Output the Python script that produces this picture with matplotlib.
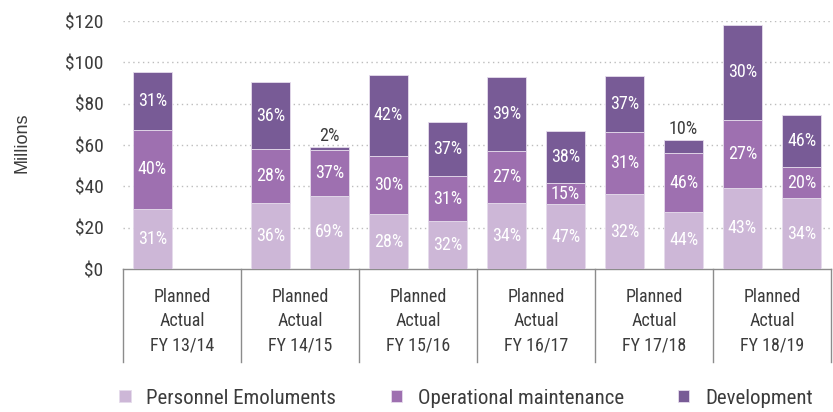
import matplotlib
matplotlib.use("Agg")
import matplotlib.pyplot as plt
import numpy as np

years = ["FY 13/14", "FY 14/15", "FY 15/16", "FY 16/17", "FY 17/18", "FY 18/19"]
kinds = ["Planned", "Actual"]

# values in $ millions, order: (year, kind)
personnel = [29.2, None, 32.1, 35.5, 26.6, 23.2, 31.8, 31.4, 36.1, 27.6, 39.2, 34.2]
operational = [37.9, None, 26.0, 22.1, 28.1, 21.8, 25.3, 10.2, 30.0, 28.5, 32.9, 15.1]
development = [28.2, None, 32.2, 1.4, 39.2, 26.3, 36.0, 25.0, 27.3, 6.3, 46.1, 25.1]

pct_personnel = ["31%", None, "36%", "69%", "28%", "32%", "34%", "47%", "32%", "44%", "43%", "34%"]
pct_operational = ["40%", None, "28%", "37%", "30%", "31%", "27%", "15%", "31%", "46%", "27%", "20%"]
pct_development = ["31%", None, "36%", "2%", "42%", "37%", "39%", "38%", "37%", "10%", "30%", "46%"]

series_names = ["Personnel Emoluments", "Operational maintenance", "Development"]
colors = ["#cdb7d7", "#9e70b0", "#785b96"]
yticks = [0, 20, 40, 60, 80, 100, 120]

FONT = ["Roboto Condensed", "Roboto", "DejaVu Sans"]
plt.rcParams["font.family"] = FONT
TXT = "#3c3c3c"

fig = plt.figure(figsize=(8.33, 4.12), dpi=100)
ax = fig.add_axes([123 / 833, 1 - 269 / 412, (831 - 123) / 833, (269 - 21) / 412])

xs = np.arange(len(personnel)) + 0.5
mask = [v is not None for v in personnel]
x_valid = xs[mask]
pe = np.array([v for v in personnel if v is not None])
om = np.array([v for v in operational if v is not None])
dv = np.array([v for v in development if v is not None])
lp = [v for v in pct_personnel if v is not None]
lo = [v for v in pct_operational if v is not None]
ld = [v for v in pct_development if v is not None]

w = 0.66
ec = "#e6dcec"
b1 = ax.bar(x_valid, pe, w, color=colors[0], edgecolor=ec, linewidth=0.6, zorder=3, label=series_names[0])
b2 = ax.bar(x_valid, om, w, bottom=pe, color=colors[1], edgecolor=ec, linewidth=0.6, zorder=3, label=series_names[1])
b3 = ax.bar(x_valid, dv, w, bottom=pe + om, color=colors[2], edgecolor=ec, linewidth=0.6, zorder=3, label=series_names[2])

LFS = 13
for x, v0, v1, v2, t0, t1, t2 in zip(x_valid, pe, om, dv, lp, lo, ld):
    ax.text(x, v0 / 2, t0, ha="center", va="center", color="white", fontsize=LFS, zorder=4)
    ax.text(x, v0 + v1 / 2, t1, ha="center", va="center", color="white", fontsize=LFS, zorder=4)
    if v2 < 10:
        ax.text(x, v0 + v1 + v2 + 0.8, t2, ha="center", va="bottom", color=TXT, fontsize=LFS, zorder=4)
    else:
        ax.text(x, v0 + v1 + v2 / 2, t2, ha="center", va="center", color="white", fontsize=LFS, zorder=4)

ax.set_xlim(0, 2 * len(years))
ax.set_ylim(0, 120)
ax.set_yticks(yticks)
ax.set_yticklabels([f"${t}" for t in yticks], fontsize=14, color=TXT)
ax.tick_params(axis="y", length=0, pad=14)
ax.set_xticks([])
for t in yticks[1:]:
    ax.axhline(t, color="#bdbdbd", linestyle=(0, (1, 2.5)), linewidth=1.0, zorder=1)
for s in ["left", "right", "top"]:
    ax.spines[s].set_visible(False)
ax.spines["bottom"].set_color("#8c8c8c")
ax.spines["bottom"].set_linewidth(1.0)

# category separators and labels
sep_len = (362 - 269) / (269 - 21) * 120
for i in range(len(years) + 1):
    ax.plot([2 * i, 2 * i], [0, -sep_len], color="#8c8c8c", linewidth=1.0, clip_on=False)
for i, yr in enumerate(years):
    cx = 2 * i + 1
    for j, lab in enumerate(kinds + [yr]):
        ypix = 297 + j * 24.5
        ax.text(cx, -(ypix - 269) / 2.067, lab, ha="center", va="center", fontsize=13, color=TXT, clip_on=False)

fig.text(22 / 833, 1 - 143 / 412, "Millions", rotation=90, ha="center", va="center",
         fontsize=13, color=TXT, family=["Liberation Sans", "DejaVu Sans"])

fig.legend([b1, b2, b3], series_names, loc="center", bbox_to_anchor=(466 / 833, 1 - 398 / 412), ncol=3,
           frameon=False, fontsize=15, handlelength=0.55, handleheight=0.55, handletextpad=0.75,
           columnspacing=2.6, labelcolor=TXT)

fig.savefig("out.png", dpi=100)
